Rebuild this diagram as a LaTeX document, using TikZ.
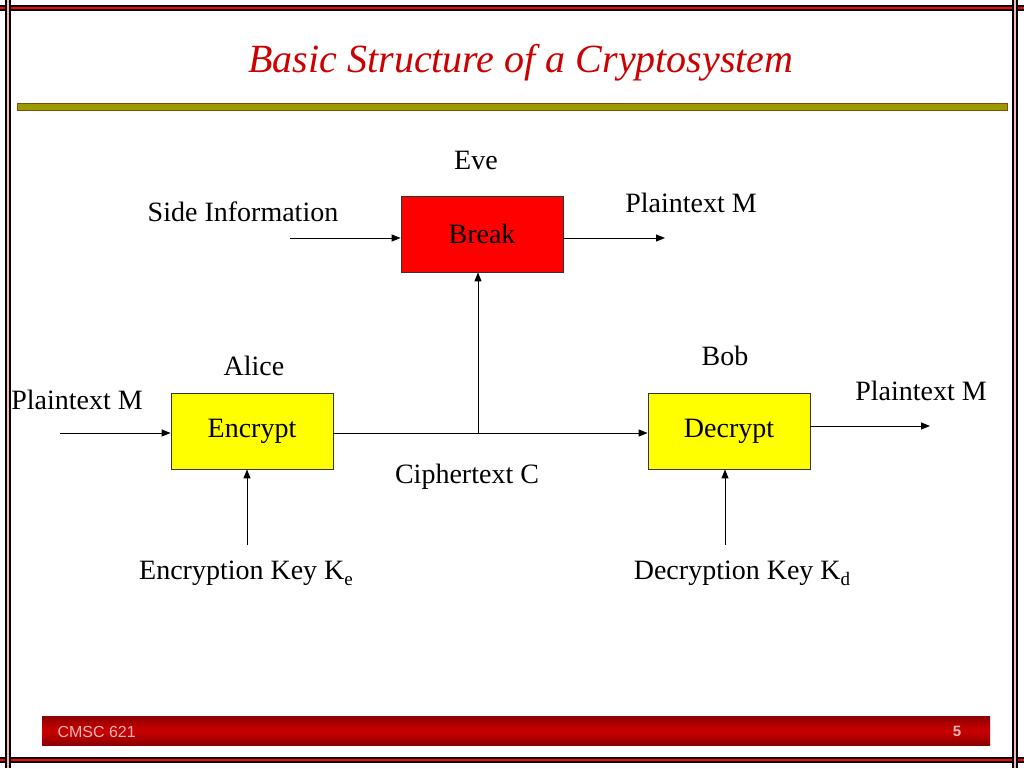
\documentclass[tikz,border=0pt]{standalone}
\usepackage{fontspec}
\setmainfont{Liberation Serif}
\setsansfont{Liberation Sans}
\usetikzlibrary{arrows.meta,positioning,calc}
\definecolor{csred}{HTML}{FF0000}
\definecolor{csyellow}{HTML}{FFFF00}
\definecolor{csolive}{HTML}{999900}
\definecolor{csbrown}{HTML}{8B4A00}
\definecolor{csdark}{HTML}{8C0000}
\definecolor{cstitle}{HTML}{CC0000}
\definecolor{cspink}{HTML}{F2B8B8}
\newcommand{\lowsub}[1]{\raisebox{-0.45ex}{\fontsize{19}{20}\selectfont #1}}

\begin{document}
\begin{tikzpicture}[x=1pt, y=-1pt,
      box/.style={draw=black!80, line width=0.8pt, minimum width=162pt, minimum height=76pt,
                  inner sep=0pt, font=\fontsize{28}{32}\selectfont},
      lbl/.style={inner sep=0pt, font=\fontsize{28}{32}\selectfont},
      arr/.style={-{Triangle[length=9pt,width=7pt]}, line width=1pt, black},
      rim/.style={line width=6pt, black},
      rimin/.style={line width=2.5pt}]
    \useasboundingbox (0,0) rectangle (1024,768);
    % slide frame
    \draw[rim] (0,8) -- (1024,8);
    \draw[rimin, red] (0,8) -- (1024,8);
    \draw[rim] (0,760) -- (1024,760);
    \draw[rimin, red] (0,760) -- (1024,760);
    \draw[rim] (8,0) -- (8,768);
    \draw[rimin, cspink] (8,0) -- (8,768);
    \draw[rim] (1015,0) -- (1015,768);
    \draw[rimin, cspink] (1015,0) -- (1015,768);
    % title and rule
    \node[font=\fontsize{40}{46}\selectfont\itshape, text=cstitle] (title) at (521,63)
      {Basic Structure of a Cryptosystem};
    \draw[fill=csolive, draw=csbrown, line width=1pt] (17,103) rectangle (1007,110);
    % footer
    \shade[top color=csdark, bottom color=csdark, middle color=cstitle] (42,716) rectangle (990,745);
    \node[anchor=west, font=\sffamily\fontsize{16}{18}\selectfont, text=cspink] (course) at (54,732) {CMSC 621};
    \node[font=\sffamily\bfseries\fontsize{15}{18}\selectfont, text=cspink] (page) at (957,731) {5};
    % boxes
    \node[box, fill=csred] (break) at (482,234) {Break};
    \node[box, fill=csyellow] (encrypt) at (252,431) {Encrypt};
    \node[box, fill=csyellow] (decrypt) at (729,431) {Decrypt};
    % labels
    \node[lbl] (eve) at (476,160) {Eve};
    \node[lbl] (alice) at (254,366) {Alice};
    \node[lbl] (bob) at (725,356) {Bob};
    \node[lbl] (side) at (243,212) {Side Information};
    \node[lbl] (evept) at (691,203) {Plaintext M};
    \node[lbl] (alicept) at (77,400) {Plaintext M};
    \node[lbl] (bobpt) at (921,391) {Plaintext M};
    \node[lbl] (cipher) at (467,477) {Ciphertext C};
    \node[lbl] (enckey) at (246,573) {Encryption Key K\lowsub{e}};
    \node[lbl] (deckey) at (742,573) {Decryption Key K\lowsub{d}};
    % free ends
    \coordinate (sidein) at (290,238);
    \coordinate (eveout) at (665,238);
    \coordinate (alicein) at (60,433);
    \coordinate (bobout) at (930,426);
    \coordinate (tap) at (478,433);
    \coordinate (kein) at (247,545);
    \coordinate (kdin) at (725,545);
    % connectors
    \draw[arr] (sidein) -- (break.west |- sidein);
    \draw[arr] (break.east |- eveout) -- (eveout);
    \draw[arr] (alicein) -- (encrypt.west |- alicein);
    \draw[arr] (encrypt.east |- tap) -- (decrypt.west |- tap);
    \draw[arr] (tap) -- (break.south -| tap);
    \draw[arr] (decrypt.east |- bobout) -- (bobout);
    \draw[arr] (kein) -- (encrypt.south -| kein);
    \draw[arr] (kdin) -- (decrypt.south -| kdin);
  \end{tikzpicture}
\end{document}
